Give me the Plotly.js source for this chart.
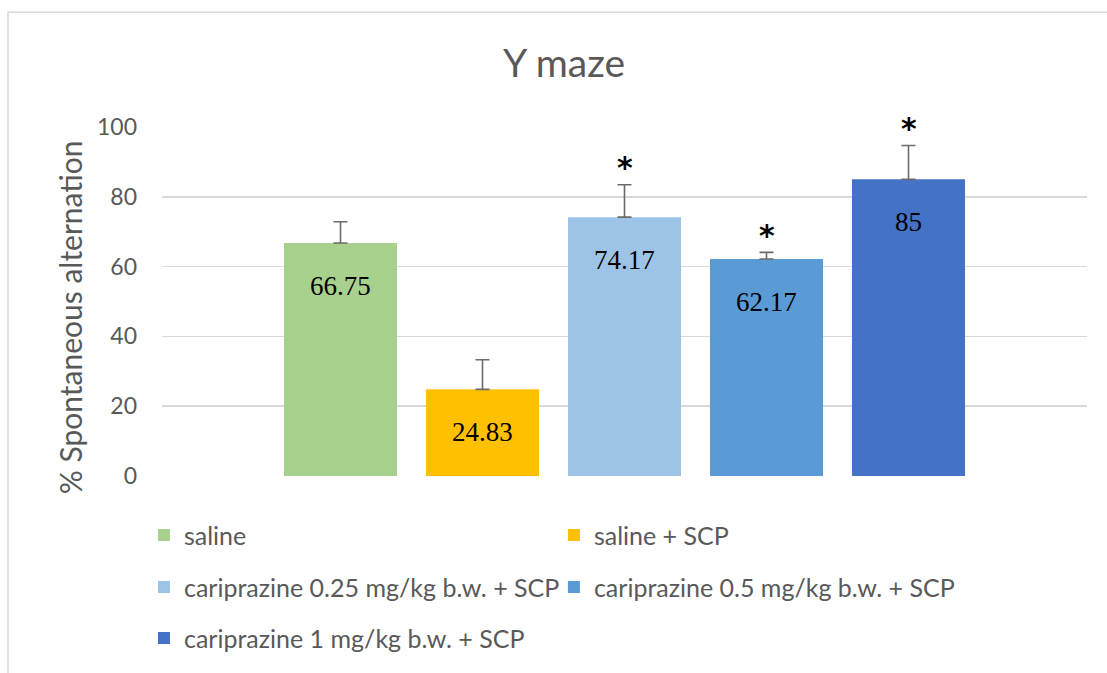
<!DOCTYPE html>
<html>
<head>
<meta charset="utf-8">
<script src="https://cdn.plot.ly/plotly-3.0.1.min.js"></script>
<style>html,body{margin:0;padding:0;background:#fff}#chart{width:1107px;height:673px}</style>
</head>
<body>
<div id="chart"></div>
<script>
// ---- data ----
const groups = [
  "saline",
  "saline + SCP",
  "cariprazine 0.25 mg/kg b.w. + SCP",
  "cariprazine 0.5 mg/kg b.w. + SCP",
  "cariprazine 1 mg/kg b.w. + SCP"
];
const values = [66.75, 24.83, 74.17, 62.17, 85];
const errors = [6.1, 8.5, 9.3, 1.9, 9.7];
const valueLabels = ["66.75", "24.83", "74.17", "62.17", "85"];
const significance = ["", "", "*", "*", "*"];
const colors = ["#A9D18E", "#FFC000", "#9DC3E6", "#5B9BD5", "#4472C4"];
const yTitle = "% Spontaneous alternation";

// ---- legend placement (paper coords) ----
const legendPos = [
  {x: -0.0195, y: -0.170},
  {x: 0.4237, y: -0.170},
  {x: -0.0195, y: -0.319},
  {x: 0.4237, y: -0.319},
  {x: -0.0195, y: -0.465}
];
const legendIds = ["legend", "legend2", "legend3", "legend4", "legend5"];

const traces = groups.map((g, i) => ({
  type: "bar",
  name: g,
  x: [g],
  y: [values[i]],
  marker: {color: colors[i]},
  legend: legendIds[i],
  error_y: {
    type: "data", symmetric: false, array: [errors[i]], arrayminus: [0],
    color: "#6b6b6b", thickness: 1.6, width: 7
  },
  hoverinfo: "x+y"
}));

const annotations = [];
groups.forEach((g, i) => {
  annotations.push({
    x: g, y: values[i], xref: "x", yref: "y",
    text: valueLabels[i], showarrow: false, yanchor: "middle", yshift: -43,
    font: {family: "Liberation Serif, serif", size: 27, color: "#000"}
  });
  if (significance[i]) {
    annotations.push({
      x: g, y: values[i] + errors[i], xref: "x", yref: "y",
      text: "<b>" + significance[i] + "</b>", showarrow: false, yanchor: "middle", yshift: 17,
      font: {family: "DejaVu Sans, sans-serif", size: 30, color: "#000"}
    });
  }
});
annotations.push({
  x: -0.0995, y: 0.4547, xref: "paper", yref: "paper",
  text: yTitle, textangle: -90, showarrow: false,
  xanchor: "center", yanchor: "middle",
  font: {family: "Lato, sans-serif", size: 30, color: "#595959"}
});

const layout = {
  width: 1107, height: 673,
  margin: {l: 162, r: 20, t: 127, b: 197},
  paper_bgcolor: "#fff", plot_bgcolor: "#fff",
  title: {
    text: "Y maze", x: 0.5095, xref: "container", xanchor: "center",
    y: 1 - 63 / 673, yref: "container", yanchor: "middle",
    font: {family: "Lato, sans-serif", size: 39, color: "#595959"}
  },
  barmode: "overlay",
  bargap: 0.204,
  xaxis: {
    type: "category", categoryarray: groups, range: [-1.257, 5.257],
    showticklabels: false, showgrid: false, zeroline: false, showline: false, fixedrange: true
  },
  yaxis: {
    range: [0, 100], dtick: 20, tick0: 0,
    showgrid: true, gridcolor: "#d9d9d9", gridwidth: 1.5,
    zeroline: false, showline: false, ticks: "",
    ticklabelstandoff: 24,
    tickfont: {family: "Lato, sans-serif", size: 23, color: "#595959"}
  },
  annotations: annotations,
  shapes: [{
    type: "rect", xref: "paper", yref: "paper",
    x0: -0.1665, x1: 1.1, y0: -0.8, y1: 1.3287,
    line: {color: "#d9d9d9", width: 1.5}, fillcolor: "rgba(0,0,0,0)", layer: "below"
  }],
  showlegend: true
};

legendIds.forEach((id, i) => {
  layout[id] = {
    x: legendPos[i].x, y: legendPos[i].y, xanchor: "left", yanchor: "middle",
    xref: "paper", yref: "paper", orientation: "h",
    bgcolor: "rgba(0,0,0,0)", borderwidth: 0,
    font: {family: "Lato, sans-serif", size: 25, color: "#595959"}
  };
});

Plotly.newPlot("chart", traces, layout, {displayModeBar: false, staticPlot: true});
</script>
</body>
</html>
